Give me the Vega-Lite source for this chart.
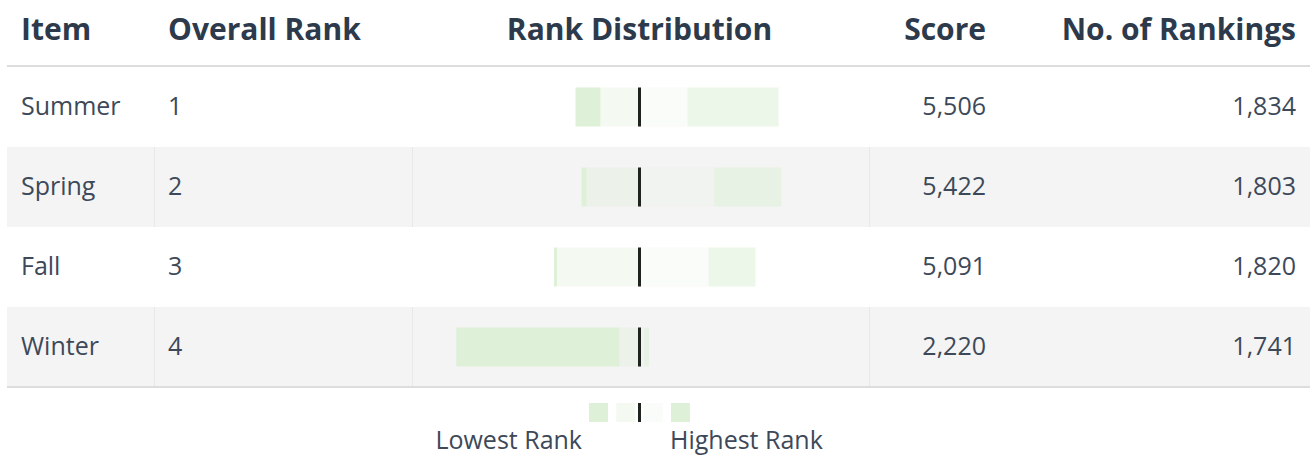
{
  "$schema": "https://vega.github.io/schema/vega-lite/v6.json",
  "padding": {"left": 6, "top": 0, "right": 0, "bottom": 0},
  "background": "white",
  "spacing": 0,
  "config": {"view": {"stroke": null}, "font": "Open Sans"},
  "datasets": {
    "columns": [
      {"col": "Item"}, {"col": "Overall Rank"}, {"col": "Rank Distribution"}, {"col": "Score"}, {"col": "No. of Rankings"}
    ],
    "items": [
      {"Item": "Summer", "Overall Rank": 1, "Score": 5506, "Rankings": 1834},
      {"Item": "Spring", "Overall Rank": 2, "Score": 5422, "Rankings": 1803},
      {"Item": "Fall", "Overall Rank": 3, "Score": 5091, "Rankings": 1820},
      {"Item": "Winter", "Overall Rank": 4, "Score": 2220, "Rankings": 1741}
    ],
    "dist": [
      {"Item": "Summer", "Rank": 1, "Count": 822},
      {"Item": "Summer", "Rank": 2, "Count": 434},
      {"Item": "Summer", "Rank": 3, "Count": 352},
      {"Item": "Summer", "Rank": 4, "Count": 226},
      {"Item": "Spring", "Rank": 1, "Count": 605},
      {"Item": "Spring", "Rank": 2, "Count": 675},
      {"Item": "Spring", "Rank": 3, "Count": 478},
      {"Item": "Spring", "Rank": 4, "Count": 45},
      {"Item": "Fall", "Rank": 1, "Count": 423},
      {"Item": "Fall", "Rank": 2, "Count": 625},
      {"Item": "Fall", "Rank": 3, "Count": 745},
      {"Item": "Fall", "Rank": 4, "Count": 27},
      {"Item": "Winter", "Rank": 1, "Count": 43},
      {"Item": "Winter", "Rank": 2, "Count": 43},
      {"Item": "Winter", "Rank": 3, "Count": 180},
      {"Item": "Winter", "Rank": 4, "Count": 1475}
    ],
    "legendkeys": [{"Rank": 4}, {"Rank": 3}, {"Rank": 2}, {"Rank": 1}],
    "legendlabels": [{"Label": "Lowest Rank", "Rank": 4}, {"Label": "Highest Rank", "Rank": 1}]
  },
  "resolve": {"scale": {"color": "independent"}},
  "vconcat": [
    {
      "width": 1304,
      "height": 65,
      "data": {"name": "columns"},
      "resolve": {"scale": {"x": "independent"}},
      "layer": [
        {
          "transform": [{"filter": "datum.col == 'Item' || datum.col == 'Overall Rank'"}],
          "mark": {"type": "text", "align": "left", "baseline": "middle", "fontSize": 30, "fontWeight": "bold", "color": "#2d3a4b", "dy": -1.5},
          "encoding": {
            "x": {"field": "col", "type": "nominal", "scale": {"type": "point", "domain": ["Item", "Overall Rank"], "range": [14, 161], "padding": 0}, "axis": null},
            "text": {"field": "col"}
          }
        },
        {
          "transform": [{"filter": "datum.col == 'Rank Distribution'"}],
          "mark": {"type": "text", "align": "center", "baseline": "middle", "fontSize": 30, "fontWeight": "bold", "color": "#2d3a4b", "dy": -1.5},
          "encoding": {
            "x": {"datum": 0, "type": "quantitative", "scale": {"domain": [-5713.6, 6065.9], "nice": false, "zero": false}, "axis": null},
            "text": {"field": "col"}
          }
        },
        {
          "transform": [{"filter": "datum.col == 'Score' || datum.col == 'No. of Rankings'"}],
          "mark": {"type": "text", "align": "right", "baseline": "middle", "fontSize": 30, "fontWeight": "bold", "color": "#2d3a4b", "dy": -1.5},
          "encoding": {
            "x": {"field": "col", "type": "nominal", "scale": {"type": "point", "domain": ["Score", "No. of Rankings"], "range": [979, 1289], "padding": 0}, "axis": null},
            "text": {"field": "col"}
          }
        }
      ]
    },
    {
      "width": 1304,
      "height": 320,
      "resolve": {"scale": {"x": "independent", "color": "independent"}},
      "layer": [
        {
          "data": {"name": "items"},
          "transform": [{"filter": "datum['Overall Rank'] % 2 == 0"}],
          "mark": {"type": "rect", "color": "#f4f4f4"},
          "encoding": {
            "y": {"field": "Item", "type": "nominal", "scale": {"domain": ["Summer", "Spring", "Fall", "Winter"], "paddingInner": 0, "paddingOuter": 0}, "axis": null}
          }
        },
        {
          "data": {"name": "columns"},
          "transform": [{"filter": "datum.col == 'Overall Rank'"}],
          "mark": {"type": "rule", "color": "#e8e8e8", "strokeWidth": 1},
          "encoding": {"x": {"field": "col", "type": "nominal", "scale": {"type": "point", "domain": ["Item", "Overall Rank"], "range": [0, 147.5], "padding": 0}, "axis": null}}
        },
        {
          "data": {"name": "columns"},
          "transform": [{"filter": "datum.col == 'Rank Distribution'"}],
          "mark": {"type": "rule", "color": "#e8e8e8", "strokeWidth": 1},
          "encoding": {"x": {"field": "col", "type": "nominal", "scale": {"type": "point", "domain": ["Overall Rank", "Rank Distribution"], "range": [147.5, 405.5], "padding": 0}, "axis": null}}
        },
        {
          "data": {"name": "columns"},
          "transform": [{"filter": "datum.col == 'Score'"}],
          "mark": {"type": "rule", "color": "#e8e8e8", "strokeWidth": 1},
          "encoding": {"x": {"field": "col", "type": "nominal", "scale": {"type": "point", "domain": ["Rank Distribution", "Score"], "range": [405.5, 862.5], "padding": 0}, "axis": null}}
        },
        {
          "data": {"name": "items"},
          "transform": [{"filter": "datum['Overall Rank'] % 2 == 1"}],
          "mark": {"type": "rect", "color": "#ffffff"},
          "encoding": {
            "y": {"field": "Item", "type": "nominal", "axis": null}
          }
        },
        {
          "data": {"name": "items"},
          "transform": [{"filter": "datum['Overall Rank'] == 1"}],
          "mark": {"type": "rule", "color": "#dddddd", "strokeWidth": 2, "yOffset": -1},
          "encoding": {
            "y": {"field": "Item", "type": "nominal", "bandPosition": 0, "axis": null}
          }
        },
        {
          "data": {"name": "items"},
          "transform": [{"filter": "datum['Overall Rank'] == 4"}],
          "mark": {"type": "rule", "color": "#dddddd", "strokeWidth": 2},
          "encoding": {
            "y": {"field": "Item", "type": "nominal", "bandPosition": 1, "axis": null}
          }
        },
        {
          "data": {"name": "items"},
          "transform": [{"fold": ["Item", "Overall Rank"], "as": ["col", "val"]}],
          "mark": {"type": "text", "align": "left", "baseline": "middle", "fontSize": 25, "color": "#3d4959"},
          "encoding": {
            "x": {"field": "col", "type": "nominal", "scale": {"type": "point", "domain": ["Item", "Overall Rank"], "range": [14, 161], "padding": 0}, "axis": null},
            "y": {"field": "Item", "type": "nominal", "axis": null},
            "text": {"field": "val", "type": "nominal"}
          }
        },
        {
          "data": {"name": "items"},
          "transform": [{"fold": ["Score", "Rankings"], "as": ["col", "val"]}],
          "mark": {"type": "text", "align": "right", "baseline": "middle", "fontSize": 25, "color": "#3d4959"},
          "encoding": {
            "x": {"field": "col", "type": "nominal", "scale": {"type": "point", "domain": ["Score", "Rankings"], "range": [979, 1289], "padding": 0}, "axis": null},
            "y": {"field": "Item", "type": "nominal", "axis": null},
            "text": {"field": "val", "type": "quantitative", "format": ","}
          }
        },
        {
          "data": {"name": "dist"},
          "transform": [{"filter": "datum.Rank >= 3"}],
          "mark": {"type": "bar", "height": {"band": 0.4875}},
          "encoding": {
            "x": {"field": "Count", "type": "quantitative", "stack": "zero", "scale": {"domain": [-6065.9, 5713.6], "reverse": true, "nice": false, "zero": false}, "axis": null},
            "y": {"field": "Item", "type": "nominal", "axis": null},
            "color": {"field": "Rank", "type": "nominal", "scale": {"domain": [1, 2, 3, 4], "range": ["rgba(223,240,216,0.56)", "rgba(223,240,216,0.19)", "rgba(223,240,216,0.33)", "rgba(223,240,216,1)"]}, "legend": null},
            "order": {"field": "Rank", "sort": "ascending"}
          }
        },
        {
          "data": {"name": "dist"},
          "transform": [{"filter": "datum.Rank <= 2"}],
          "mark": {"type": "bar", "height": {"band": 0.4875}},
          "encoding": {
            "x": {"field": "Count", "type": "quantitative", "stack": "zero", "scale": {"domain": [-5713.6, 6065.9], "nice": false, "zero": false}, "axis": null},
            "y": {"field": "Item", "type": "nominal", "axis": null},
            "color": {"field": "Rank", "type": "nominal", "scale": {"domain": [1, 2, 3, 4], "range": ["rgba(223,240,216,0.56)", "rgba(223,240,216,0.19)", "rgba(223,240,216,0.33)", "rgba(223,240,216,1)"]}, "legend": null},
            "order": {"field": "Rank", "sort": "descending"}
          }
        },
        {
          "data": {"name": "items"},
          "mark": {"type": "tick", "color": "#1f2320", "thickness": 3, "size": 39, "opacity": 1},
          "encoding": {
            "x": {"datum": 0, "type": "quantitative", "scale": {"domain": [-5713.6, 6065.9], "nice": false, "zero": false}, "axis": null},
            "y": {"field": "Item", "type": "nominal", "axis": null}
          }
        }
      ]
    },
    {
      "width": 1304,
      "height": 71,
      "resolve": {"scale": {"x": "independent"}},
      "layer": [
        {
          "data": {"name": "legendkeys"},
          "mark": {"type": "square", "size": 361, "filled": true, "opacity": 1, "strokeWidth": 0},
          "encoding": {
            "x": {"field": "Rank", "type": "ordinal", "scale": {"type": "point", "domain": [4, 3, 2, 1], "range": [591.5, 673.5], "padding": 0}, "axis": null},
            "y": {"datum": "swatch", "type": "nominal", "scale": {"type": "point", "domain": ["swatch", "label"], "range": [24.5, 53], "padding": 0}, "axis": null},
            "color": {"field": "Rank", "type": "nominal", "scale": {"domain": [1, 2, 3, 4], "range": ["rgba(223,240,216,1)", "rgba(223,240,216,0.19)", "rgba(223,240,216,0.33)", "rgba(223,240,216,1)"]}, "legend": null}
          }
        },
        {
          "data": {"name": "legendkeys"},
          "transform": [{"filter": "datum.Rank == 1"}],
          "mark": {"type": "tick", "color": "#1f2320", "thickness": 3, "size": 19, "opacity": 1},
          "encoding": {
            "x": {"datum": 0, "type": "quantitative", "scale": {"domain": [-5713.6, 6065.9], "nice": false, "zero": false}, "axis": null},
            "y": {"datum": "swatch", "type": "nominal", "axis": null}
          }
        },
        {
          "data": {"name": "legendlabels"},
          "transform": [{"filter": "datum.Rank == 4"}],
          "mark": {"type": "text", "align": "right", "baseline": "middle", "fontSize": 25, "color": "#3d4959", "dx": -16.5},
          "encoding": {
            "x": {"field": "Rank", "type": "ordinal", "scale": {"type": "point", "domain": [4, 3, 2, 1], "range": [591.5, 673.5], "padding": 0}, "axis": null},
            "y": {"datum": "label", "type": "nominal", "axis": null},
            "text": {"field": "Label"}
          }
        },
        {
          "data": {"name": "legendlabels"},
          "transform": [{"filter": "datum.Rank == 1"}],
          "mark": {"type": "text", "align": "left", "baseline": "middle", "fontSize": 25, "color": "#3d4959", "dx": -10.5},
          "encoding": {
            "x": {"field": "Rank", "type": "ordinal", "scale": {"type": "point", "domain": [4, 3, 2, 1], "range": [591.5, 673.5], "padding": 0}, "axis": null},
            "y": {"datum": "label", "type": "nominal", "axis": null},
            "text": {"field": "Label"}
          }
        }
      ]
    }
  ]
}
